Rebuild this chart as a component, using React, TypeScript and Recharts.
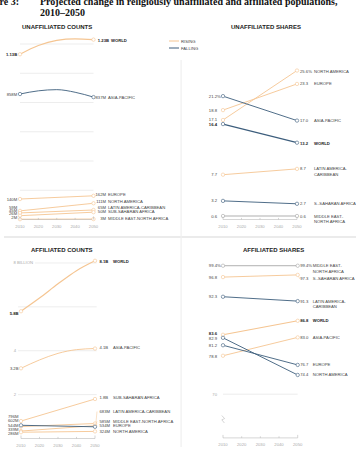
import React from 'react';
import { LineChart, Line, XAxis, YAxis, ReferenceLine } from 'recharts';

const RISING = '#f5c592';
const FALLING = '#3c5d7c';
const STEADY = '#a6a6a6';
const INK = '#444';
const SANS = '"Liberation Sans", Arial, sans-serif';
const SERIF = '"Liberation Serif", "Times New Roman", serif';
const LABEL_SIZE = 4.2;

const YEARS = [2010, 2020, 2030, 2040, 2050];
const ENDS = [2010, 2050];
const AXIS_TICKS = [2010, 2020, 2030, 2040, 2050];

// unaffiliated population, millions
const unaffCountWorld = [1130, 1190, 1225, 1235, 1230];
const unaffCountAsiaPacific = [858, 880, 888, 870, 837];
const unaffCountEurope = [140, 162];
const unaffCountNorthAmerica = [59, 111];
const unaffCountLatinAmerica = [45, 65];
const unaffCountSubSaharan = [26, 50];
const unaffCountMidEast = [2, 3];

// unaffiliated share of population, %
const unaffShareNorthAmerica = [17.1, 25.6];
const unaffShareEurope = [18.8, 23.3];
const unaffShareAsiaPacific = [21.2, 17.0];
const unaffShareWorld = [16.4, 13.2];
const unaffShareLatinAmerica = [7.7, 8.7];
const unaffShareSubSaharan = [3.2, 2.7];
const unaffShareMidEast = [0.6, 0.6];

// affiliated population, millions
const affCountWorld = [5800, 6400, 7050, 7650, 8100];
const affCountAsiaPacific = [3200, 3580, 3880, 4050, 4100];
const affCountSubSaharan = [796, 1800];
const affCountLatinAmerica = [544, 683];
const affCountMidEast = [339, 585];
const affCountEurope = [602, 534];
const affCountNorthAmerica = [286, 324];

// affiliated share of population, %
const affShareMidEast = [99.4, 99.4];
const affShareSubSaharan = [96.8, 97.3];
const affShareLatinAmerica = [92.3, 91.3];
const affShareWorld = [83.6, 86.8];
const affShareAsiaPacific = [78.8, 83.0];
const affShareEurope = [81.2, 76.7];
const affShareNorthAmerica = [82.9, 74.4];

type SeriesSpec = {
  id: string;
  years: number[];
  values: number[];
  name: string[];
  bold?: boolean;
  dy?: [number, number]; // label nudges at 2010 / 2050
  shift?: number;
};

type PanelSpec = {
  fmt: (v: number) => string;
  pct: boolean;
  startGap: number;
  valueGap: number;
  valueAnchor: 'start' | 'end';
  nameGap: number;
};

const unaffCountSeries: SeriesSpec[] = [
  { id: 'world', years: YEARS, values: unaffCountWorld, name: ['WORLD'], bold: true, dy: [0, 1], shift: 3 },
  { id: 'ap', years: YEARS, values: unaffCountAsiaPacific, name: ['ASIA-PACIFIC'], dy: [0, 0.5] },
  { id: 'eu', years: ENDS, values: unaffCountEurope, name: ['EUROPE'], dy: [0, -1] },
  { id: 'na', years: ENDS, values: unaffCountNorthAmerica, name: ['NORTH AMERICA'], dy: [-3, -1.5] },
  { id: 'lac', years: ENDS, values: unaffCountLatinAmerica, name: ['LATIN AMERICA-CARIBBEAN'], dy: [-2, -2] },
  { id: 'ssa', years: ENDS, values: unaffCountSubSaharan, name: ['SUB-SAHARAN AFRICA'], dy: [-2, -1] },
  { id: 'mena', years: ENDS, values: unaffCountMidEast, name: ['MIDDLE EAST-NORTH AFRICA'], dy: [-2, -1] },
];

const unaffShareSeries: SeriesSpec[] = [
  { id: 'na', years: ENDS, values: unaffShareNorthAmerica, name: ['NORTH AMERICA'], dy: [0, 1] },
  { id: 'eu', years: ENDS, values: unaffShareEurope, name: ['EUROPE'] },
  { id: 'ap', years: ENDS, values: unaffShareAsiaPacific, name: ['ASIA-PACIFIC'] },
  { id: 'world', years: ENDS, values: unaffShareWorld, name: ['WORLD'], bold: true, dy: [0.5, 0.5] },
  { id: 'lac', years: ENDS, values: unaffShareLatinAmerica, name: ['LATIN AMERICA-', 'CARIBBEAN'] },
  { id: 'ssa', years: ENDS, values: unaffShareSubSaharan, name: ['S.-SAHARAN AFRICA'] },
  { id: 'mena', years: ENDS, values: unaffShareMidEast, name: ['MIDDLE EAST-', 'NORTH AFRICA'] },
];

const affCountSeries: SeriesSpec[] = [
  { id: 'world', years: YEARS, values: affCountWorld, name: ['WORLD'], bold: true, dy: [2, 1] },
  { id: 'ap', years: YEARS, values: affCountAsiaPacific, name: ['ASIA-PACIFIC'], dy: [0, -1] },
  { id: 'ssa', years: ENDS, values: affCountSubSaharan, name: ['SUB-SAHARAN AFRICA'], dy: [-5, -1.5] },
  { id: 'lac', years: ENDS, values: affCountLatinAmerica, name: ['LATIN AMERICA-CARIBBEAN'], dy: [-1.5, -12] },
  { id: 'mena', years: ENDS, values: affCountMidEast, name: ['MIDDLE EAST-NORTH AFRICA'], dy: [-2, -4.5] },
  { id: 'eu', years: ENDS, values: affCountEurope, name: ['EUROPE'], dy: [-4.3, -1] },
  { id: 'na', years: ENDS, values: affCountNorthAmerica, name: ['NORTH AMERICA'], dy: [1, 0] },
];

const affShareSeries: SeriesSpec[] = [
  { id: 'mena', years: ENDS, values: affShareMidEast, name: ['MIDDLE EAST-', 'NORTH AFRICA'] },
  { id: 'ssa', years: ENDS, values: affShareSubSaharan, name: ['S.-SAHARAN AFRICA'], dy: [0, 4] },
  { id: 'lac', years: ENDS, values: affShareLatinAmerica, name: ['LATIN AMERICA-', 'CARIBBEAN'] },
  { id: 'world', years: ENDS, values: affShareWorld, name: ['WORLD'], bold: true, dy: [-1.5, 0] },
  { id: 'ap', years: ENDS, values: affShareAsiaPacific, name: ['ASIA-PACIFIC'], dy: [1, 0] },
  { id: 'eu', years: ENDS, values: affShareEurope, name: ['EUROPE'] },
  { id: 'na', years: ENDS, values: affShareNorthAmerica, name: ['NORTH AMERICA'], dy: [0.5, 0] },
];

const millions = (digits: number) => (v: number) =>
  v >= 1000 ? `${(v / 1000).toFixed(digits)}B` : `${v}M`;
const share = (v: number) => v.toFixed(1);

const trendColor = (values: number[]) => {
  const first = values[0];
  const last = values[values.length - 1];
  if (last > first) return RISING;
  if (last < first) return FALLING;
  return STEADY;
};

function YearTick(props: any) {
  const { x, y, payload } = props;
  const v = payload.value;
  const end = v === 2010 || v === 2050;
  return (
    <g>
      <line x1={x} x2={x} y1={y} y2={y - (end ? 3 : 1.6)} stroke="#bbb" strokeWidth={0.6} />
      <text x={x} y={y + 6.5} textAnchor="middle" dominantBaseline="central" fontSize={LABEL_SIZE} fontFamily={SANS} fill="#aaa">
        {v}
      </text>
    </g>
  );
}

const makeDot = (s: SeriesSpec, p: PanelSpec, maxStart: number, maxEnd: number) => (props: any) => {
  const { cx, cy, index } = props;
  const last = s.values.length - 1;
  const key = `${s.id}-${index}`;
  if (index !== 0 && index !== last) return <g key={key} />;
  const color = trendColor(s.values);
  const v = s.values[index];
  const text = {
    fontSize: LABEL_SIZE,
    fontFamily: SANS,
    fontWeight: s.bold ? 700 : 400,
    fill: s.bold ? '#222' : INK,
    dominantBaseline: 'central' as const,
  };
  const marker = <circle cx={cx} cy={cy} r={1.7} fill="#fff" stroke={color} strokeWidth={0.6} />;

  if (index === 0) {
    const ly = cy + (s.dy?.[0] ?? 0);
    return (
      <g key={key}>
        {marker}
        <text x={cx - p.startGap} y={ly} textAnchor="end" {...text}>{p.fmt(v)}</text>
        {p.pct && v === maxStart && <text x={cx - p.startGap} y={ly} textAnchor="start" {...text}>%</text>}
      </g>
    );
  }

  const dy = s.dy?.[1] ?? 0;
  const ly = cy + dy;
  const shift = s.shift ?? 0;
  return (
    <g key={key}>
      {Math.abs(dy) >= 3 && (
        <line x1={cx + 1} y1={cy + Math.sign(dy) * 1.6} x2={cx + 2} y2={ly} stroke={color} strokeWidth={0.5} />
      )}
      {marker}
      <text x={cx + p.valueGap + shift} y={ly} textAnchor={p.valueAnchor} {...text}>
        {p.fmt(v)}{p.pct && v === maxEnd ? '%' : ''}
      </text>
      {s.name.map((n, i) => (
        <text key={n} x={cx + p.nameGap + shift} y={ly + i * 5.6} textAnchor="start" {...text}>{n}</text>
      ))}
    </g>
  );
};

type ChartBox = { left: number; top: number; width: number; height: number };
type Margin = { top: number; right: number; bottom: number; left: number };

function SmallMultiple({
  box,
  margin,
  domain,
  series,
  panel,
  children,
}: {
  box: ChartBox;
  margin: Margin;
  domain: [number, number];
  series: SeriesSpec[];
  panel: PanelSpec;
  children?: React.ReactNode;
}) {
  const maxStart = Math.max(...series.map((s) => s.values[0]));
  const maxEnd = Math.max(...series.map((s) => s.values[s.values.length - 1]));
  return (
    <div style={{ position: 'absolute', left: box.left, top: box.top }}>
      <LineChart width={box.width} height={box.height} margin={margin}>
        <XAxis
          type="number"
          dataKey="year"
          domain={[2010, 2050]}
          ticks={AXIS_TICKS}
          interval={0}
          height={10}
          tickLine={false}
          tickSize={0}
          tickMargin={0}
          axisLine={{ stroke: '#bbb', strokeWidth: 0.6 }}
          tick={<YearTick />}
        />
        <YAxis hide width={0} type="number" domain={domain} />
        {children}
        {series.map((s) => (
          <Line
            key={s.id}
            data={s.years.map((year, i) => ({ year, value: s.values[i] }))}
            dataKey="value"
            type="monotone"
            stroke={trendColor(s.values)}
            strokeWidth={s.bold ? 1.2 : 0.9}
            dot={makeDot(s, panel, maxStart, maxEnd)}
            activeDot={false}
            isAnimationActive={false}
          />
        ))}
      </LineChart>
    </div>
  );
}

const gridLabel = (value: string) => ({
  value,
  position: 'left' as const,
  offset: 2,
  fontSize: LABEL_SIZE,
  fontFamily: SANS,
  fill: '#aaa',
});

export default function App() {
  const header = { fontFamily: SANS, fontWeight: 700, fontSize: 6, fill: '#222' };
  const small = { fontFamily: SANS, fontSize: LABEL_SIZE, fill: INK, dominantBaseline: 'central' as const };
  return (
    <div style={{ position: 'absolute', left: 0, top: 0, width: 356, height: 454, background: '#fff', overflow: 'hidden' }}>
      <svg width={356} height={454} style={{ position: 'absolute', left: 0, top: 0 }}>
        <text x={-20} y={4.5} fontFamily={SERIF} fontWeight={700} fontSize={10} fill="#111">Figure 3:</text>
        <text x={40} y={4.5} fontFamily={SERIF} fontWeight={700} fontSize={10} fill="#111">
          Projected change in religiously unaffiliated and affiliated populations,
        </text>
        <text x={40} y={15.5} fontFamily={SERIF} fontWeight={700} fontSize={10} fill="#111">2010–2050</text>

        <rect x={4} y={236} width={352} height={2} fill="#ebebeb" />
        <rect x={180.5} y={60} width={1.2} height={387} fill="#f0f0f0" />

        <text x={22} y={29.2} {...header}>UNAFFILIATED COUNTS</text>
        <text x={231} y={29.2} {...header}>UNAFFILIATED SHARES</text>
        <text x={31} y={252.2} {...header}>AFFILIATED COUNTS</text>
        <text x={243} y={252.2} {...header}>AFFILIATED SHARES</text>

        <line x1={169} x2={179} y1={41} y2={41} stroke={RISING} strokeWidth={1} />
        <line x1={169} x2={179} y1={48} y2={48} stroke={FALLING} strokeWidth={1} />
        <text x={181} y={41} {...small}>RISING</text>
        <text x={181} y={48} {...small}>FALLING</text>

        <path d="M221.8 415.5 L224.6 418.6 L221.8 419.8 L224.4 423" fill="none" stroke="#bbb" strokeWidth={0.6} />
      </svg>

      <SmallMultiple
        box={{ left: 0, top: 20, width: 180, height: 210 }}
        margin={{ top: 9.4, right: 86.5, bottom: 0.5, left: 20 }}
        domain={[0, 1300]}
        series={unaffCountSeries}
        panel={{ fmt: millions(2), pct: false, startGap: 2.8, valueGap: 12.5, valueAnchor: 'end', nameGap: 14.5 }}
      >
        {[200, 400, 600, 800, 1000, 1200].map((v) => (
          <ReferenceLine key={v} y={v} stroke="#e9e9e9" strokeWidth={0.8} />
        ))}
      </SmallMultiple>

      <SmallMultiple
        box={{ left: 181, top: 20, width: 175, height: 210 }}
        margin={{ top: 13.3, right: 59, bottom: 0.5, left: 42 }}
        domain={[0, 32]}
        series={unaffShareSeries}
        panel={{ fmt: share, pct: true, startGap: 6, valueGap: 3, valueAnchor: 'start', nameGap: 17 }}
      />

      <SmallMultiple
        box={{ left: 0, top: 240, width: 185, height: 210 }}
        margin={{ top: 12, right: 90, bottom: 1.5, left: 21 }}
        domain={[0, 8500]}
        series={affCountSeries}
        panel={{ fmt: millions(1), pct: false, startGap: 2.5, valueGap: 4.5, valueAnchor: 'start', nameGap: 18 }}
      >
        <ReferenceLine segment={[{ x: 2008.4, y: 2000 }, { x: 2050.9, y: 2000 }]} ifOverflow="visible" stroke="#e9e9e9" strokeWidth={0.8} label={gridLabel('2')} />
        <ReferenceLine segment={[{ x: 2008.4, y: 4000 }, { x: 2050.9, y: 4000 }]} ifOverflow="visible" stroke="#e9e9e9" strokeWidth={0.8} label={gridLabel('4')} />
        <ReferenceLine segment={[{ x: 2008.4, y: 6000 }, { x: 2050.9, y: 6000 }]} ifOverflow="visible" stroke="#e9e9e9" strokeWidth={0.8} />
        <ReferenceLine segment={[{ x: 2017.6, y: 8000 }, { x: 2050.9, y: 8000 }]} ifOverflow="visible" stroke="#e9e9e9" strokeWidth={0.8} label={gridLabel('8 BILLION')} />
      </SmallMultiple>

      <SmallMultiple
        box={{ left: 181, top: 240, width: 175, height: 210 }}
        margin={{ top: 23.1, right: 58.3, bottom: 2.1, left: 42 }}
        domain={[60, 100]}
        series={affShareSeries}
        panel={{ fmt: share, pct: true, startGap: 6, valueGap: 2.5, valueAnchor: 'start', nameGap: 15 }}
      >
        <ReferenceLine y={70} stroke="#e9e9e9" strokeWidth={0.8} label={{ ...gridLabel('70'), offset: 6 }} />
      </SmallMultiple>
    </div>
  );
}
